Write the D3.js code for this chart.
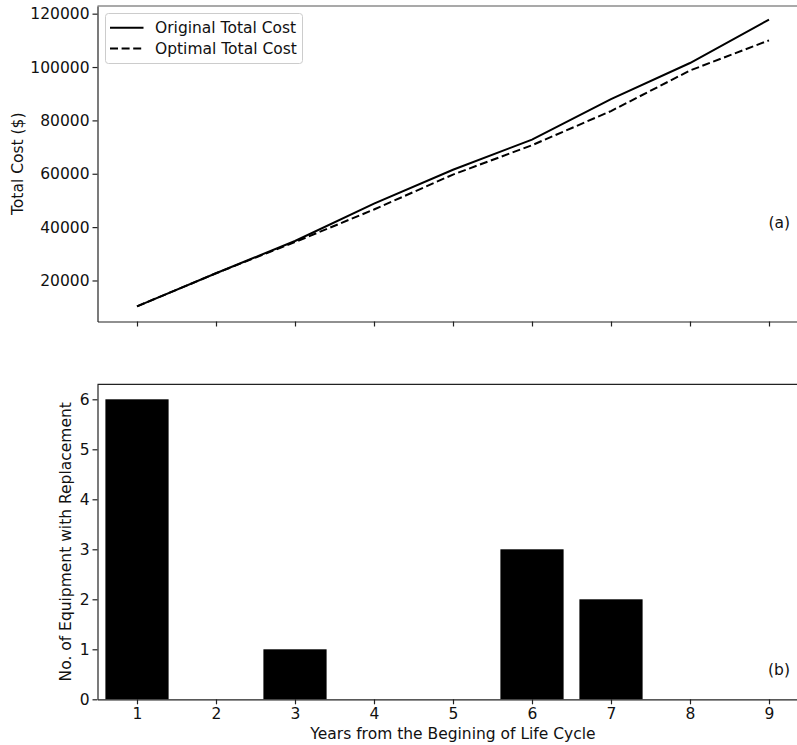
<!DOCTYPE html>
<html>
<head>
<meta charset="utf-8">
<script src="https://cdn.jsdelivr.net/npm/d3@7"></script>
<style>
  html, body { margin: 0; padding: 0; background: #fff; }
  svg text { font-family: "DejaVu Sans", sans-serif; fill: #111; }
</style>
</head>
<body>
<svg id="chart" width="797" height="745"></svg>
<script>
// Years of the life cycle
const years = [1, 2, 3, 4, 5, 6, 7, 8, 9];
// Cumulative total cost ($)
const originalCost = [10300, 22700, 34800, 48800, 61500, 72800, 88000, 101500, 117800];
const optimalCost  = [10300, 22700, 34400, 46600, 59700, 70700, 83500, 98700, 110000];
// Number of equipment replaced in each year
const replacements = [6, 0, 1, 0, 0, 3, 2, 0, 0];
const costTicks = [20000, 40000, 60000, 80000, 100000, 120000];
const countTicks = [0, 1, 2, 3, 4, 5, 6];

const svg = d3.select("#chart");
const FONT = 15.5;
const spineW = 1.2;

// Shared horizontal scale
const x = d3.scaleLinear().domain([0.5, 9.5]).range([97.5, 808.5]);

function styleAxis(a) {
  a.select(".domain").attr("stroke", "#222").attr("stroke-width", spineW);
  a.selectAll(".tick line").attr("stroke", "#222").attr("stroke-width", spineW);
  a.selectAll(".tick text").style("font-size", FONT + "px").attr("fill", "#111");
}

// ---------- Panel (a): total cost lines ----------
const topY = d3.scaleLinear().domain([4625, 122875]).range([321.5, 6]);
const gA = svg.append("g");

const xAxisA = gA.append("g")
  .attr("transform", `translate(0,${topY.range()[0]})`)
  .call(d3.axisBottom(x).tickValues(years).tickSizeInner(5).tickSizeOuter(0).tickFormat(""));
const yAxisA = gA.append("g")
  .attr("transform", `translate(${x.range()[0]},0)`)
  .call(d3.axisLeft(topY).tickValues(costTicks).tickSizeInner(5).tickSizeOuter(0).tickPadding(3).tickFormat(d3.format("d")));
styleAxis(xAxisA);
styleAxis(yAxisA);

// top spine
gA.append("line")
  .attr("x1", x.range()[0]).attr("x2", x.range()[1])
  .attr("y1", topY.range()[1]).attr("y2", topY.range()[1])
  .attr("stroke", "#555").attr("stroke-width", spineW);

const line = d3.line().x((d, i) => x(years[i])).y(d => topY(d));
gA.append("path").datum(originalCost)
  .attr("d", line).attr("fill", "none")
  .attr("stroke", "#000").attr("stroke-width", 2);
gA.append("path").datum(optimalCost)
  .attr("d", line).attr("fill", "none")
  .attr("stroke", "#000").attr("stroke-width", 2)
  .attr("stroke-dasharray", "8,3.6");

gA.append("text")
  .attr("transform", `translate(23,${(topY.range()[0] + topY.range()[1]) / 2}) rotate(-90)`)
  .attr("text-anchor", "middle")
  .style("font-size", FONT + "px")
  .text("Total Cost ($)");

gA.append("text")
  .attr("x", 790).attr("y", 228)
  .attr("text-anchor", "end")
  .style("font-size", FONT + "px")
  .text("(a)");

// legend
const legend = gA.append("g");
legend.append("rect")
  .attr("x", 105.5).attr("y", 13.5).attr("width", 197).attr("height", 50)
  .attr("rx", 3).attr("fill", "#fff").attr("fill-opacity", 0.8)
  .attr("stroke", "#ccc").attr("stroke-width", 1);
const legendItems = [
  { label: "Original Total Cost", dash: null },
  { label: "Optimal Total Cost", dash: "8,3.6" }
];
legendItems.forEach((item, i) => {
  const cy = 27.7 + i * 20.8;
  legend.append("line")
    .attr("x1", 110).attr("x2", 143.5).attr("y1", cy).attr("y2", cy)
    .attr("stroke", "#000").attr("stroke-width", 2)
    .attr("stroke-dasharray", item.dash);
  legend.append("text")
    .attr("x", 155).attr("y", cy + 5.5)
    .style("font-size", FONT + "px")
    .text(item.label);
});

// ---------- Panel (b): replacements bar chart ----------
const botY = d3.scaleLinear().domain([0, 6.3]).range([699.3, 384.3]);
const gB = svg.append("g");

gB.selectAll("rect.bar")
  .data(replacements)
  .join("rect")
  .attr("class", "bar")
  .attr("x", (d, i) => x(years[i] - 0.4))
  .attr("width", x(1.4) - x(0.6))
  .attr("y", d => botY(d))
  .attr("height", d => botY(0) - botY(d))
  .attr("fill", "#000");

const xAxisB = gB.append("g")
  .attr("transform", `translate(0,${botY.range()[0]})`)
  .call(d3.axisBottom(x).tickValues(years).tickSizeInner(5).tickSizeOuter(0).tickPadding(4).tickFormat(d3.format("d")));
const yAxisB = gB.append("g")
  .attr("transform", `translate(${x.range()[0]},0)`)
  .call(d3.axisLeft(botY).tickValues(countTicks).tickSizeInner(5).tickSizeOuter(0).tickPadding(3).tickFormat(d3.format("d")));
styleAxis(xAxisB);
styleAxis(yAxisB);

gB.append("line")
  .attr("x1", x.range()[0]).attr("x2", x.range()[1])
  .attr("y1", botY.range()[1]).attr("y2", botY.range()[1])
  .attr("stroke", "#222").attr("stroke-width", spineW);

gB.append("text")
  .attr("transform", `translate(71,${(botY.range()[0] + botY.range()[1]) / 2}) rotate(-90)`)
  .attr("text-anchor", "middle")
  .style("font-size", FONT + "px")
  .text("No. of Equipment with Replacement");

gB.append("text")
  .attr("x", 790).attr("y", 675)
  .attr("text-anchor", "end")
  .style("font-size", FONT + "px")
  .text("(b)");

svg.append("text")
  .attr("x", (x.range()[0] + x.range()[1]) / 2).attr("y", 739)
  .attr("text-anchor", "middle")
  .style("font-size", FONT + "px")
  .text("Years from the Begining of Life Cycle");
</script>
</body>
</html>
